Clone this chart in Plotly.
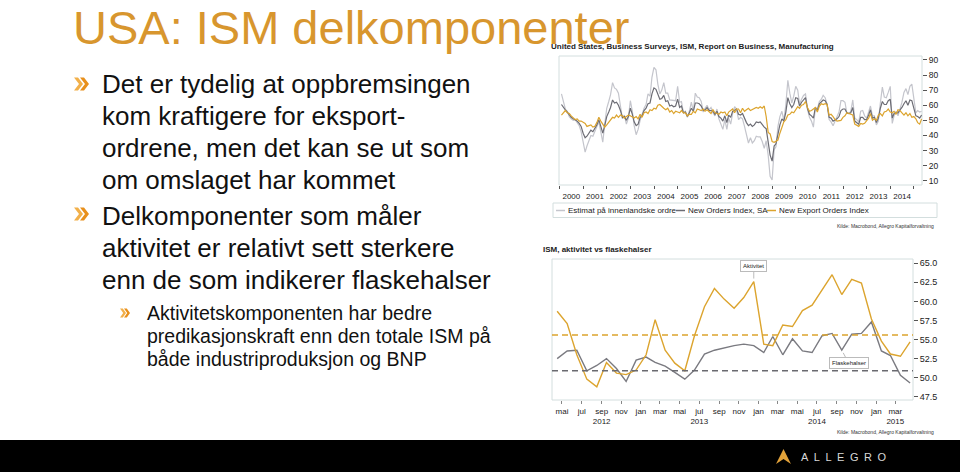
import plotly.graph_objects as go
import pandas as pd

# ---------------- Chart 1 data: monthly, Jan 2000 - Apr 2015 ----------------
new_orders = [
    60.5, 58.5, 57.0, 55.5, 53.5, 52.0, 51.0, 50.5, 49.5, 48.0, 46.0, 41.5,
    38.5, 39.5, 41.5, 43.5, 42.5, 44.5, 47.0, 50.5, 46.0, 41.5, 46.5, 52.5,
    55.5, 58.5, 63.5, 61.5, 62.0, 60.0, 56.5, 52.0, 52.5, 50.0, 52.5, 58.0,
    54.0, 49.0, 46.5, 47.5, 52.0, 53.0, 56.5, 58.0, 61.0, 61.5, 67.5, 71.5,
    70.5, 67.0, 64.0, 64.5, 66.5, 62.5, 63.0, 59.5, 60.0, 59.0, 59.5, 64.0,
    58.5, 59.5, 55.0, 55.5, 52.5, 55.0, 58.0, 56.0, 61.5, 61.5, 61.0, 59.5,
    56.5, 57.0, 58.5, 56.5, 56.5, 56.0, 54.0, 56.0, 52.5, 51.5, 49.5, 53.0,
    48.5, 53.5, 52.0, 56.0, 57.0, 57.5, 54.0, 53.5, 54.5, 51.0, 48.5, 46.5,
    47.5, 46.0, 47.0, 49.0, 48.5, 49.0, 47.0, 45.5, 44.5, 34.5, 27.0, 23.0,
    33.0, 34.5, 41.5, 47.0, 51.0, 49.5, 55.5, 65.0, 61.0, 58.5, 60.5, 65.0,
    64.5, 59.5, 62.0, 63.5, 65.0, 58.0, 54.0, 53.0, 51.5, 58.5, 56.5, 61.0,
    62.5, 63.5, 63.0, 60.5, 52.0, 51.5, 49.5, 50.0, 51.0, 52.5, 56.5, 57.5,
    57.5, 55.0, 54.5, 55.0, 58.5, 49.5, 48.5, 47.5, 52.0, 52.0, 50.5, 50.5,
    53.5, 57.0, 51.5, 52.0, 48.5, 51.5, 58.0, 62.5, 60.5, 60.5, 63.0, 64.0,
    51.5, 54.5, 55.0, 55.0, 57.0, 58.5, 61.0, 63.0, 60.0, 63.5, 63.0, 57.5,
    53.0, 52.5, 51.5, 53.5,
]
export_orders = [
    53.5, 55.0, 56.5, 55.0, 54.5, 53.0, 52.0, 50.5, 51.0, 49.5, 49.5, 48.5,
    48.0, 46.0, 46.5, 47.0, 45.5, 46.0, 48.5, 52.0, 49.5, 47.5, 45.5, 47.0,
    48.5, 50.0, 52.0, 51.5, 53.5, 52.0, 53.5, 53.0, 51.5, 52.5, 53.5, 53.0,
    52.0, 51.5, 52.5, 51.0, 54.0, 52.0, 55.0, 55.5, 54.5, 57.0, 56.5, 58.0,
    57.5, 60.0, 60.5, 59.0, 58.0, 57.0, 58.0, 55.5, 56.5, 54.5, 56.0, 55.5,
    55.0, 56.5, 55.0, 55.0, 53.0, 54.0, 54.0, 56.0, 55.0, 57.5, 57.0, 56.5,
    57.5, 56.0, 57.0, 56.0, 54.5, 57.0, 55.0, 54.5, 54.0, 55.5, 55.0, 55.5,
    53.0, 55.5, 56.5, 57.5, 55.0, 57.5, 57.5, 55.0, 58.0, 56.0, 57.0, 58.0,
    56.5, 57.0, 57.5, 58.5, 58.0, 59.0, 58.0, 59.5, 52.5, 42.0, 41.0, 36.0,
    35.5, 36.5, 37.0, 41.5, 46.0, 49.0, 50.5, 53.5, 54.0, 55.5, 55.0, 57.5,
    59.0, 58.0, 60.0, 60.5, 62.5, 58.5, 56.0, 56.5, 57.5, 58.5, 55.5, 59.5,
    61.0, 60.5, 61.0, 60.5, 53.5, 54.0, 52.5, 50.5, 49.5, 49.5, 50.0, 52.0,
    53.0, 55.0, 54.5, 54.0, 53.5, 47.5, 46.5, 46.0, 48.0, 47.5, 48.0, 49.5,
    51.5, 54.5, 50.0, 51.0, 50.0, 53.5, 54.5, 53.0, 55.5, 56.0, 57.5, 55.5,
    55.0, 56.0, 54.0, 57.0, 56.5, 55.0, 53.5, 55.0, 53.0, 54.5, 52.0, 52.5,
    51.0, 48.5, 47.5, 51.0,
]
domestic_estimate = [
    67.5, 62.0, 57.5, 56.0, 52.5, 51.0, 50.0, 50.5, 48.0, 46.5, 42.5, 34.5,
    29.0, 33.0, 36.5, 40.0, 39.5, 43.0, 45.5, 49.0, 42.5, 35.5, 47.5, 58.0,
    62.5, 67.0, 75.0, 71.5, 70.5, 68.0, 59.5, 51.0, 53.5, 47.5, 51.5, 63.0,
    56.0, 46.5, 40.5, 44.0, 50.0, 54.0, 58.0, 60.5, 67.5, 66.0, 78.5, 85.0,
    83.5, 74.0, 67.5, 70.0, 75.0, 68.0, 68.0, 63.5, 63.5, 63.5, 63.0, 72.5,
    62.0, 62.5, 55.0, 56.0, 52.0, 56.0, 62.0, 56.0, 68.0, 65.5, 65.0, 62.5,
    55.5, 58.0, 60.0, 57.0, 58.5, 55.0, 53.0, 57.5, 51.0, 47.5, 44.0, 50.5,
    44.0, 51.5, 47.5, 54.5, 59.0, 57.5, 50.5, 52.0, 51.0, 46.0, 40.0, 35.0,
    38.5, 35.0, 36.5, 39.5, 39.0, 39.0, 36.0, 31.5, 36.5, 27.0, 13.0, 10.5,
    30.5, 32.5, 46.0, 52.5, 56.0, 50.0, 60.5, 76.5, 68.0, 61.5, 66.0, 72.5,
    70.0, 61.0, 64.0, 66.5, 67.5, 57.5, 52.0, 49.5, 45.5, 58.5, 57.5, 62.5,
    64.0, 66.5, 65.0, 60.5, 50.5, 49.0, 46.5, 49.5, 52.5, 55.5, 63.0, 63.0,
    62.0, 55.0, 54.5, 56.0, 63.5, 51.5, 50.5, 49.0, 56.0, 56.5, 53.0, 51.5,
    55.5, 59.5, 53.0, 53.0, 47.0, 49.5, 61.5, 72.0, 65.5, 65.0, 68.5, 72.5,
    48.0, 53.0, 56.0, 53.0, 57.5, 62.0, 68.5, 71.0, 67.0, 72.5, 74.0, 62.5,
    55.0, 56.5, 55.5, 56.0,
]
dates1 = pd.date_range("2000-01-31", periods=len(new_orders), freq=pd.offsets.MonthEnd())
y1_ticks = [10, 20, 30, 40, 50, 60, 70, 80, 90]
legend1_names = ["Estimat på innenlandske ordre", "New Orders Index, SA", "New Export Orders Index"]

# ---------------- Chart 2 data: monthly, Apr 2012 - Apr 2015 ----------------
aktivitet = [58.7, 57.1, 53.0, 49.8, 48.8, 52.0, 50.6, 50.4, 51.0, 53.0, 57.6, 53.6,
             51.9, 50.9, 55.5, 59.3, 61.7, 60.3, 59.1, 60.5, 62.6, 54.4, 54.2, 56.9,
             56.7, 58.8, 59.5, 61.5, 63.5, 60.9, 62.9, 62.4, 57.7, 54.8, 53.1, 52.8, 54.7]
flaskehalser = [52.5, 53.5, 53.6, 50.9, 51.6, 52.5, 51.2, 49.5, 52.3, 52.7, 52.0, 51.5,
                50.7, 49.8, 51.0, 53.1, 53.6, 53.9, 54.2, 54.4, 54.2, 53.3, 55.4, 53.0,
                55.1, 53.5, 53.3, 55.5, 55.8, 53.6, 55.7, 55.8, 57.3, 53.5, 52.9, 50.3, 49.3]
aktivitet_avg = 55.6
flaskehalser_avg = 50.9
dates2 = pd.date_range("2012-04-30", periods=len(aktivitet), freq=pd.offsets.MonthEnd())
x2_tickvals = ["2012-05-15", "2012-07-15", "2012-09-15", "2012-11-15",
               "2013-01-15", "2013-03-15", "2013-05-15", "2013-07-15", "2013-09-15", "2013-11-15",
               "2014-01-15", "2014-03-15", "2014-05-15", "2014-07-15", "2014-09-15", "2014-11-15",
               "2015-01-15", "2015-03-15"]
x2_ticktext = ["mai", "jul", "sep<br>2012", "nov",
               "jan", "mar", "mai", "jul<br>2013", "sep", "nov",
               "jan", "mar", "mai", "jul<br>2014", "sep", "nov",
               "jan", "mar<br>2015"]
y2_ticks = [47.5, 50.0, 52.5, 55.0, 57.5, 60.0, 62.5, 65.0]

# ---------------- styling ----------------
W, H = 960, 472
FONT = "Liberation Sans, Arial, sans-serif"
ORANGE = "#D8962E"
BULLET = "#E8901C"
BULLET2 = "#F2B04A"
GOLD = "#DCA42E"
DARK = "#6C6C74"
LIGHT = "#C4C5CC"
FRAME = "#D3DEDE"
TXT = "#222222"
series1_colors = [LIGHT, DARK, GOLD]


def px(x):
    return x / W


def py(y):
    return 1 - y / H


fig = go.Figure()

for vals, name, col in zip((domestic_estimate, new_orders, export_orders), legend1_names, series1_colors):
    fig.add_trace(go.Scatter(x=dates1, y=vals, mode="lines", name=name, showlegend=False,
                             line=dict(color=col, width=1.2), xaxis="x", yaxis="y"))

fig.add_trace(go.Scatter(x=dates2, y=flaskehalser, mode="lines", name="Flaskehalser", showlegend=False,
                         line=dict(color="#7A7A80", width=1.4), xaxis="x2", yaxis="y2"))
fig.add_trace(go.Scatter(x=dates2, y=aktivitet, mode="lines", name="Aktivitet", showlegend=False,
                         line=dict(color=GOLD, width=1.4), xaxis="x2", yaxis="y2"))

shapes = []
# footer
shapes.append(dict(type="rect", xref="paper", yref="paper", x0=0, x1=1, y0=0, y1=py(440),
                   fillcolor="#000000", line=dict(width=0), layer="below"))
# plot frames
for xr, yr in (("x domain", "y domain"), ("x2 domain", "y2 domain")):
    shapes.append(dict(type="rect", xref=xr, yref=yr, x0=0, x1=1, y0=0, y1=1,
                       line=dict(color=FRAME, width=1), layer="below"))
# legend box
shapes.append(dict(type="rect", xref="paper", yref="paper", x0=px(553), x1=px(937), y0=py(217.5), y1=py(203),
                   line=dict(color=FRAME, width=1), layer="below"))
# average lines
shapes.append(dict(type="line", xref="x2 domain", yref="y2", x0=0, x1=1, y0=aktivitet_avg, y1=aktivitet_avg,
                   line=dict(color=GOLD, width=1.5, dash="6px,4px")))
shapes.append(dict(type="line", xref="x2 domain", yref="y2", x0=0, x1=1, y0=flaskehalser_avg, y1=flaskehalser_avg,
                   line=dict(color="#6A6A70", width=1.5, dash="6px,4px")))


def chevron(x, yc, w, h, t):
    # thick chevron pointing right; t = stroke thickness along x
    return (f"M {px(x)},{py(yc - h)} L {px(x + t)},{py(yc - h)} L {px(x + w)},{py(yc)} "
            f"L {px(x + t)},{py(yc + h)} L {px(x)},{py(yc + h)} L {px(x + w - t)},{py(yc)} Z")


for (bx, by, bw, bh, bt, off) in ((74, 84, 9, 6.5, 4, 6), (74, 214, 9, 6.5, 4, 6), (120, 313, 6, 4.5, 2.8, 4)):
    shapes.append(dict(type="path", xref="paper", yref="paper", path=chevron(bx, by, bw, bh, bt),
                       fillcolor=BULLET2, line=dict(width=0)))
    shapes.append(dict(type="path", xref="paper", yref="paper", path=chevron(bx + off, by, bw, bh, bt),
                       fillcolor=BULLET, line=dict(width=0)))
# logo mark
shapes.append(dict(type="path", xref="paper", yref="paper",
                   path=(f"M {px(776)},{py(464)} L {px(783.5)},{py(449)} L {px(791)},{py(464)} "
                         f"L {px(783.5)},{py(459)} Z"),
                   fillcolor="#E2A23A", line=dict(width=0)))

annotations = []


def text(x, y, s, size, color=TXT, bold=False, anchor="left", yanchor="middle", pad=1):
    annotations.append(dict(xref="paper", yref="paper", x=px(x), y=py(y), text=f"<b>{s}</b>" if bold else s,
                            showarrow=False, xanchor=anchor, yanchor=yanchor, borderpad=pad,
                            font=dict(family=FONT, size=size, color=color)))


text(72, 0, "USA: ISM delkomponenter", 47, color=ORANGE, yanchor="top", pad=0)
main_lines = [
    (84, "Det er tydelig at oppbremsingen"),
    (116, "kom kraftigere for eksport-"),
    (148, "ordrene, men det kan se ut som"),
    (180, "om omslaget har kommet"),
    (216, "Delkomponenter som måler"),
    (248, "aktivitet er relativt sett sterkere"),
    (280, "enn de som indikerer flaskehalser"),
]
for yy, s in main_lines:
    text(100, yy, s, 26, color="#111111")
sub_lines = [
    (313, "Aktivitetskomponenten har bedre"),
    (336, "predikasjonskraft enn den totale ISM på"),
    (359, "både industriproduksjon og BNP"),
]
for yy, s in sub_lines:
    text(145, yy, s, 19.5, color="#111111")

text(549, 47, "United States, Business Surveys, ISM, Report on Business, Manufacturing", 8, bold=True)
text(541, 249, "ISM, aktivitet vs flaskehalser", 8, bold=True)
text(936, 226, "Kilde: Macrobond, Allegro Kapitalforvaltning", 5, color="#333333", anchor="right")
text(936, 432, "Kilde: Macrobond, Allegro Kapitalforvaltning", 5, color="#333333", anchor="right")
text(799, 457, "A\u2002L\u2002L\u2002E\u2002G\u2002R\u2002O", 11, color="#D8D8D8")

# legend of chart 1 (line sample + label)
legend_x = [556, 676, 767]
for lx, name, col in zip(legend_x, legend1_names, series1_colors):
    shapes.append(dict(type="line", xref="paper", yref="paper", x0=px(lx), x1=px(lx + 9),
                       y0=py(210.5), y1=py(210.5), line=dict(color=col, width=1.5)))
    text(lx + 9.5, 210.5, name, 8)

# labels on chart 2
annotations.append(dict(xref="x2", yref="y2", x=dates2[20], y=aktivitet[20], text="Aktivitet",
                        showarrow=True, arrowhead=0, arrowcolor="#BBBBBB", arrowwidth=1, ax=0, ay=-16,
                        standoff=3, bgcolor="white", bordercolor="#BBBBBB", borderwidth=1, borderpad=2,
                        font=dict(family=FONT, size=6, color=TXT)))
annotations.append(dict(xref="x2", yref="y2", x=dates2[29], y=flaskehalser[29], text="Flaskehalser",
                        showarrow=True, arrowhead=0, arrowcolor="#BBBBBB", arrowwidth=1, ax=7, ay=13,
                        standoff=3, bgcolor="white", bordercolor="#BBBBBB", borderwidth=1, borderpad=2,
                        font=dict(family=FONT, size=6, color=TXT)))

fig.update_layout(
    width=W, height=H, margin=dict(l=0, r=0, t=0, b=0, autoexpand=False),
    paper_bgcolor="white", plot_bgcolor="white",
    font=dict(family=FONT, color=TXT),
    showlegend=False,
    xaxis=dict(domain=[px(559), px(922)], anchor="y", type="date", automargin=False,
               range=["1999-12-24", "2015-05-06"], tick0="2000-01-01", dtick="M12",
               tickformat="%Y", ticklabelmode="period", ticks="outside", ticklen=3,
               tickcolor="#555555", showgrid=False, zeroline=False, showline=False,
               tickfont=dict(size=8, color=TXT)),
    yaxis=dict(domain=[py(185), py(56)], anchor="x", side="right", range=[7.2, 92.6], automargin=False,
               tickvals=y1_ticks, ticks="outside", ticklen=4, tickcolor="#555555",
               showgrid=False, zeroline=False, showline=False,
               tickfont=dict(size=8.5, color=TXT)),
    xaxis2=dict(domain=[px(552), px(913)], anchor="y2", type="date", automargin=False,
                range=["2012-04-14", "2015-05-09"], tickvals=x2_tickvals, ticktext=x2_ticktext,
                ticks="outside", ticklen=3, tickcolor="#888888",
                showgrid=False, zeroline=False, showline=False,
                tickfont=dict(size=8, color=TXT)),
    yaxis2=dict(domain=[py(400), py(259)], anchor="x2", side="right", range=[47.07, 65.56], automargin=False,
                tickvals=y2_ticks, tickformat=".1f", ticks="outside", ticklen=4, tickcolor="#555555",
                showgrid=False, zeroline=False, showline=False,
                tickfont=dict(size=9, color=TXT)),
    shapes=shapes,
    annotations=annotations,
)

fig.write_html("out.html")
